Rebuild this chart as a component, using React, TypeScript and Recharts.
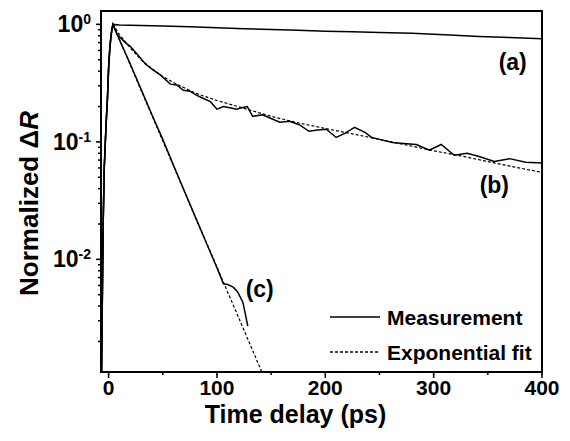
import React from "react";
import { LineChart, Line, XAxis, YAxis, Legend, ReferenceArea, ReferenceDot, Label } from "recharts";

const FONT = '"Liberation Sans", Arial, Helvetica, sans-serif';

// shared rising edge (ps, normalized dR)
const riseTime = [-6.5, -6, -5, -4, -3, -2, -1, 0, 1, 2, 3, 4];
const riseValue = [0.0011, 0.003, 0.02, 0.06, 0.1, 0.16, 0.24, 0.42, 0.6, 0.76, 0.9, 1.0];

// (a) slow decay
const aTime = [10, 30, 50, 75, 94, 125, 150, 175, 200, 225, 250, 280, 310, 342, 370, 400];
const aValue = [0.99, 0.98, 0.97, 0.955, 0.94, 0.92, 0.905, 0.89, 0.875, 0.865, 0.855, 0.84, 0.815, 0.79, 0.775, 0.755];

// (b) measurement
const bTime = [8, 15.5, 20, 27, 34, 41, 48, 57, 63, 69, 75, 81, 87, 94, 100, 106, 112, 118, 123, 128, 133, 142, 150, 158, 167, 176, 185, 193, 201, 210, 218, 227, 237, 243, 252, 262, 272, 284, 296, 307, 319, 331, 342, 356, 370, 385, 400];
const bValue = [0.82, 0.7, 0.65, 0.55, 0.46, 0.41, 0.37, 0.31, 0.305, 0.275, 0.27, 0.25, 0.235, 0.22, 0.19, 0.2, 0.195, 0.19, 0.195, 0.2, 0.165, 0.17, 0.158, 0.147, 0.15, 0.14, 0.123, 0.126, 0.128, 0.109, 0.118, 0.133, 0.12, 0.109, 0.104, 0.099, 0.097, 0.095, 0.085, 0.095, 0.077, 0.08, 0.075, 0.068, 0.072, 0.067, 0.066];

// (b) exponential fit
const bFitTime = [4, 10, 20, 30, 40, 50, 60, 80, 100, 125, 150, 175, 200, 225, 250, 275, 300, 325, 350, 375, 400];
const bFitValue = [1.0, 0.82, 0.63, 0.5, 0.42, 0.36, 0.32, 0.26, 0.225, 0.193, 0.165, 0.145, 0.13, 0.117, 0.105, 0.094, 0.084, 0.076, 0.068, 0.061, 0.055];

// (c) measurement
const cTime = [10, 20, 30, 40, 50, 60, 70, 80, 90, 100, 106, 110, 115, 119, 124, 128.5];
const cValue = [0.74, 0.46, 0.28, 0.17, 0.105, 0.063, 0.038, 0.023, 0.014, 0.0085, 0.0062, 0.0061, 0.0058, 0.0053, 0.0043, 0.0027];

// (c) exponential fit
const cFitTime = [4, 40, 80, 120, 145];
const cFitValue = [1.0, 0.168, 0.023, 0.0032, 0.00092];

const xTicks = [0, 50, 100, 150, 200, 250, 300, 350, 400];
const yMajorTicks = [0.01, 0.1, 1];
const yMinorTicks = [0.002, 0.003, 0.004, 0.005, 0.006, 0.007, 0.008, 0.009, 0.02, 0.03, 0.04, 0.05, 0.06, 0.07, 0.08, 0.09, 0.2, 0.3, 0.4, 0.5, 0.6, 0.7, 0.8, 0.9];

const curveLabels = ["(a)", "(b)", "(c)"];
const curveLabelTime = [373, 356, 139.5];
const curveLabelValue = [0.484, 0.0435, 0.00556];

const toPoints = (t: number[], v: number[]) => t.map((x, i) => ({ t: x, v: v[i] }));

const measA = toPoints([...riseTime, ...aTime], [...riseValue, ...aValue]);
const measB = toPoints([...riseTime, ...bTime], [...riseValue, ...bValue]);
const measC = toPoints([...riseTime, ...cTime], [...riseValue, ...cValue]);
const fitB = toPoints(bFitTime, bFitValue);
const fitC = toPoints(cFitTime, cFitValue);

// x, y arrive at the outer end of the minor tick line drawn by recharts
const XTick = (props: any) => {
  const { x, y, payload } = props;
  const major = payload.value % 100 === 0;
  return (
    <g>
      {major && <line x1={x} x2={x} y1={y - 1} y2={y + 3} stroke="#000" strokeWidth={1.5} />}
      {major && (
        <text x={x} y={y + 20} textAnchor="middle" fontFamily={FONT} fontWeight="bold" fontSize={21} fill="#000">
          {payload.value}
        </text>
      )}
    </g>
  );
};

const YTick = (props: any) => {
  const { x, y, payload } = props;
  const major = yMajorTicks.includes(payload.value);
  const exp = Math.round(Math.log10(payload.value));
  return (
    <g>
      {major && <line x1={x + 1} x2={x - 2} y1={y} y2={y} stroke="#000" strokeWidth={1.5} />}
      {major && (
        <text x={x - 7} y={y + 8} textAnchor="end" fontFamily={FONT} fontWeight="bold" fontSize={23} fill="#000">
          10
          <tspan dy={-8} fontSize={14}>
            {exp}
          </tspan>
        </text>
      )}
    </g>
  );
};

const XTitle = (props: any) => {
  const vb = props.viewBox;
  return (
    <text x={vb.x + vb.width / 2 - 26} y={vb.y + 51} textAnchor="middle" fontFamily={FONT} fontWeight="bold" fontSize={25} fill="#000">
      Time delay (ps)
    </text>
  );
};

const YTitle = (props: any) => {
  const vb = props.viewBox;
  const cx = 38;
  const cy = vb.y + vb.height / 2 + 12;
  return (
    <text x={cx} y={cy} transform={`rotate(-90 ${cx} ${cy})`} textAnchor="middle" fontFamily={FONT} fontWeight="bold" fontSize={26} fill="#000">
      Normalized Δ<tspan fontStyle="italic">R</tspan>
    </text>
  );
};

const LegendContent = (props: any) => {
  const items = (props.payload || [])
    .filter((p: any) => p.type !== "none")
    .slice()
    .sort((p: any, q: any) => (p.payload?.strokeDasharray ? 1 : 0) - (q.payload?.strokeDasharray ? 1 : 0));
  return (
    <svg width={230} height={70}>
      {items.map((p: any, i: number) => (
        <g key={p.value}>
          <line x1={5} x2={55} y1={17 + 35 * i} y2={17 + 35 * i} stroke="#000" strokeWidth={1.3} strokeDasharray={p.payload?.strokeDasharray} />
          <text x={62} y={25 + 35 * i} fontFamily={FONT} fontWeight="bold" fontSize={21} fill="#000">
            {p.value}
          </text>
        </g>
      ))}
    </svg>
  );
};

const tickStroke = { stroke: "#000", strokeWidth: 1.5 };

export default function App() {
  return (
    <div style={{ position: "absolute", left: 0, top: 0, width: 570, height: 441, background: "#fff" }}>
      <LineChart width={570} height={441} margin={{ top: 11, right: 28, bottom: 0, left: 0 }}>
        <XAxis
          type="number"
          dataKey="t"
          domain={[-7, 400]}
          allowDataOverflow
          ticks={xTicks}
          interval={0}
          tick={<XTick />}
          tickLine={tickStroke}
          tickSize={3}
          tickMargin={0}
          height={69}
          axisLine={{ stroke: "#000", strokeWidth: 2 }}
        >
          <Label content={<XTitle />} />
        </XAxis>
        <YAxis
          type="number"
          dataKey="v"
          scale="log"
          domain={[0.0011, 1.3]}
          allowDataOverflow
          ticks={[...yMinorTicks, ...yMajorTicks]}
          interval={0}
          tick={<YTick />}
          tickLine={tickStroke}
          tickSize={3}
          tickMargin={0}
          width={101}
          axisLine={{ stroke: "#000", strokeWidth: 2 }}
        >
          <Label content={<YTitle />} />
        </YAxis>
        <ReferenceArea x1={-7} x2={400} y1={0.0011} y2={1.3} stroke="#000" strokeWidth={2} fill="none" fillOpacity={0} />
        <Line data={measA} dataKey="v" type="linear" stroke="#000" strokeWidth={1.5} dot={false} isAnimationActive={false} name="Measurement" />
        <Line data={fitB} dataKey="v" type="linear" stroke="#000" strokeWidth={1.2} strokeDasharray="3 2" dot={false} isAnimationActive={false} name="Exponential fit" />
        <Line data={fitC} dataKey="v" type="linear" stroke="#000" strokeWidth={1.2} strokeDasharray="3 2" dot={false} isAnimationActive={false} legendType="none" name="fit c" />
        <Line data={measB} dataKey="v" type="linear" stroke="#000" strokeWidth={1.5} dot={false} isAnimationActive={false} legendType="none" name="meas b" />
        <Line data={measC} dataKey="v" type="linear" stroke="#000" strokeWidth={1.5} dot={false} isAnimationActive={false} legendType="none" name="meas c" />
        {curveLabels.map((lab, i) => (
          <ReferenceDot
            key={lab}
            x={curveLabelTime[i]}
            y={curveLabelValue[i]}
            r={0}
            fill="none"
            stroke="none"
            label={{ value: lab, position: "center", fontSize: 23, fontWeight: "bold", fontFamily: FONT, fill: "#000" }}
          />
        ))}
        <Legend
          layout="vertical"
          align="center"
          verticalAlign="middle"
          itemSorter={null}
          content={<LegendContent />}
          wrapperStyle={{ position: "absolute", left: 325, top: 300, width: 230, height: 70 }}
        />
      </LineChart>
    </div>
  );
}
